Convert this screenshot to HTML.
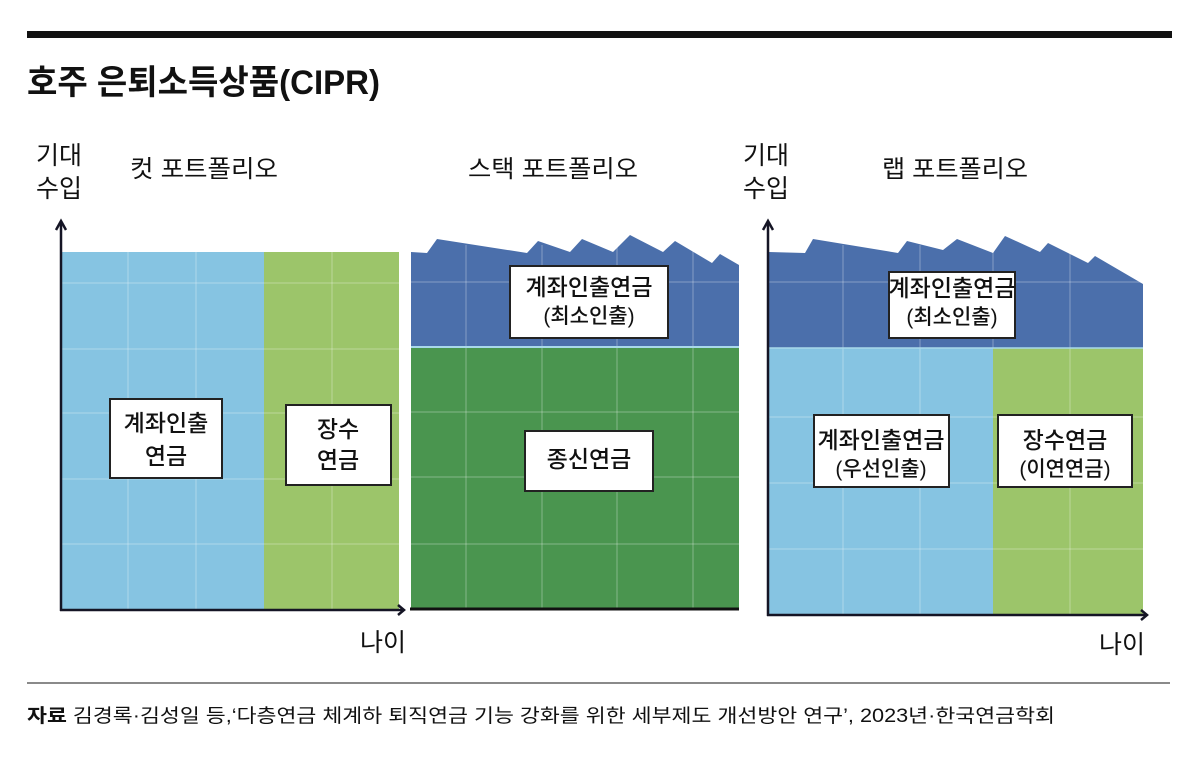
<!DOCTYPE html>
<html><head><meta charset="utf-8">
<style>
html,body{margin:0;padding:0;background:#fff;}
svg{display:block;}
text{font-family:"Liberation Sans","Noto Sans CJK KR",sans-serif;fill:#111;}
.h{font-size:24px;}
.ax{font-size:25px;}
.bx{font-size:23px;font-weight:500;}
.bs{font-size:21px;font-weight:500;}
</style></head>
<body>
<svg width="1200" height="758" viewBox="0 0 1200 758" xmlns="http://www.w3.org/2000/svg">
<rect x="0" y="0" width="1200" height="758" fill="#fff"/>
<!-- top bar -->
<rect x="27" y="31" width="1145" height="7" fill="#111"/>
<text x="27" y="94" style="font-size:34px;font-weight:700" textLength="353" lengthAdjust="spacingAndGlyphs">호주 은퇴소득상품(CIPR)</text>

<!-- ===== LEFT PANEL ===== -->
<text class="ax" x="36" y="164">기대</text>
<text class="ax" x="36" y="197">수입</text>
<text class="h" x="130" y="177" textLength="148" lengthAdjust="spacingAndGlyphs">컷 포트폴리오</text>
<rect x="62" y="252" width="202" height="358" fill="#86c4e2"/>
<rect x="264" y="252" width="135" height="358" fill="#9cc56a"/>
<g stroke="#ffffff" stroke-opacity="0.22" stroke-width="1.5">
<line x1="62" y1="283" x2="399" y2="283"/><line x1="62" y1="349" x2="399" y2="349"/>
<line x1="62" y1="413" x2="399" y2="413"/><line x1="62" y1="479" x2="399" y2="479"/>
<line x1="62" y1="544" x2="399" y2="544"/>
<line x1="128" y1="252" x2="128" y2="610"/><line x1="196" y1="252" x2="196" y2="610"/>
<line x1="332" y1="252" x2="332" y2="610"/>
</g>
<g stroke="#151525" stroke-width="2.5" fill="none">
<line x1="61" y1="611" x2="61" y2="221"/>
<polyline points="56,230 61,221 66,230"/>
<line x1="60" y1="610" x2="403" y2="610"/>
<polyline points="398,605 404,610 398,615"/>
</g>
<text class="ax" x="360" y="651">나이</text>
<rect x="110" y="399" width="112" height="79" fill="#fff" stroke="#222" stroke-width="2"/>
<text class="bx" x="166" y="431" text-anchor="middle">계좌인출</text>
<text class="bx" x="166" y="464" text-anchor="middle">연금</text>
<rect x="286" y="405" width="105" height="80" fill="#fff" stroke="#222" stroke-width="2"/>
<text class="bx" x="338" y="437" text-anchor="middle">장수</text>
<text class="bx" x="338" y="468" text-anchor="middle">연금</text>

<!-- ===== MIDDLE PANEL ===== -->
<text class="h" x="468" y="177" textLength="170" lengthAdjust="spacingAndGlyphs">스택 포트폴리오</text>
<rect x="411" y="347" width="328" height="262" fill="#4a954f"/>
<polygon points="411,252 427,253 437,239 527,253 538,241 570,252 582,239 613,252 630,235 663,252 675,241 712,263 720,254 739,265 739,347 411,347" fill="#4b6fab"/>
<g stroke="#ffffff" stroke-opacity="0.22" stroke-width="1.5">
<line x1="411" y1="282" x2="739" y2="282"/>
<line x1="411" y1="412" x2="739" y2="412"/><line x1="411" y1="477" x2="739" y2="477"/>
<line x1="411" y1="544" x2="739" y2="544"/>
<line x1="466" y1="245" x2="466" y2="609"/><line x1="542" y1="245" x2="542" y2="609"/>
<line x1="617" y1="245" x2="617" y2="609"/><line x1="693" y1="250" x2="693" y2="609"/>
</g>
<line x1="411" y1="347" x2="739" y2="347" stroke="#a8d8ea" stroke-width="2"/>
<line x1="410" y1="609" x2="739" y2="609" stroke="#111" stroke-width="3"/>
<rect x="510" y="266" width="158" height="72" fill="#fff" stroke="#222" stroke-width="2"/>
<text class="bx" x="589" y="295" text-anchor="middle">계좌인출연금</text>
<text class="bs" x="589" y="323" text-anchor="middle">(최소인출)</text>
<rect x="525" y="431" width="128" height="60" fill="#fff" stroke="#222" stroke-width="2"/>
<text class="bx" x="589" y="467" text-anchor="middle">종신연금</text>

<!-- ===== RIGHT PANEL ===== -->
<text class="ax" x="743" y="164">기대</text>
<text class="ax" x="743" y="197">수입</text>
<text class="h" x="882" y="177" textLength="146" lengthAdjust="spacingAndGlyphs">랩 포트폴리오</text>
<rect x="769" y="348" width="224" height="267" fill="#86c4e2"/>
<rect x="993" y="348" width="150" height="267" fill="#9cc56a"/>
<polygon points="769,252 805,253 813,239 898,253 907,241 943,250 957,239 993,253 1005,236 1040,252 1048,243 1088,263 1095,256 1143,284 1143,348 769,348" fill="#4b6fab"/>
<g stroke="#ffffff" stroke-opacity="0.22" stroke-width="1.5">
<line x1="769" y1="282" x2="1143" y2="282"/>
<line x1="769" y1="417" x2="1143" y2="417"/><line x1="769" y1="483" x2="1143" y2="483"/>
<line x1="769" y1="549" x2="1143" y2="549"/>
<line x1="843" y1="245" x2="843" y2="615"/><line x1="920" y1="245" x2="920" y2="615"/>
<line x1="993" y1="245" x2="993" y2="348"/><line x1="1070" y1="245" x2="1070" y2="615"/>
</g>
<line x1="769" y1="348" x2="1143" y2="348" stroke="#a8d8ea" stroke-width="1.5"/>
<g stroke="#151525" stroke-width="2.5" fill="none">
<line x1="768" y1="616" x2="768" y2="221"/>
<polyline points="763,230 768,221 773,230"/>
<line x1="767" y1="615" x2="1146" y2="615"/>
<polyline points="1141,610 1147,615 1141,620"/>
</g>
<text class="ax" x="1099" y="653">나이</text>
<rect x="889" y="272" width="126" height="66" fill="#fff" stroke="#222" stroke-width="2"/>
<text class="bx" x="952" y="296" text-anchor="middle">계좌인출연금</text>
<text class="bs" x="952" y="324" text-anchor="middle">(최소인출)</text>
<rect x="814" y="415" width="135" height="72" fill="#fff" stroke="#222" stroke-width="2"/>
<text class="bx" x="881" y="448" text-anchor="middle">계좌인출연금</text>
<text class="bs" x="881" y="476" text-anchor="middle">(우선인출)</text>
<rect x="998" y="415" width="134" height="72" fill="#fff" stroke="#222" stroke-width="2"/>
<text class="bx" x="1065" y="448" text-anchor="middle">장수연금</text>
<text class="bs" x="1065" y="476" text-anchor="middle">(이연연금)</text>

<!-- ===== FOOTER ===== -->
<line x1="27" y1="683" x2="1170" y2="683" stroke="#444" stroke-width="1.2"/>
<text x="27" y="722" style="font-size:19px" textLength="1028" lengthAdjust="spacingAndGlyphs"><tspan style="font-weight:700">자료</tspan> 김경록·김성일 등,‘다층연금 체계하 퇴직연금 기능 강화를 위한 세부제도 개선방안 연구’, 2023년·한국연금학회</text>
</svg>
</body></html>
